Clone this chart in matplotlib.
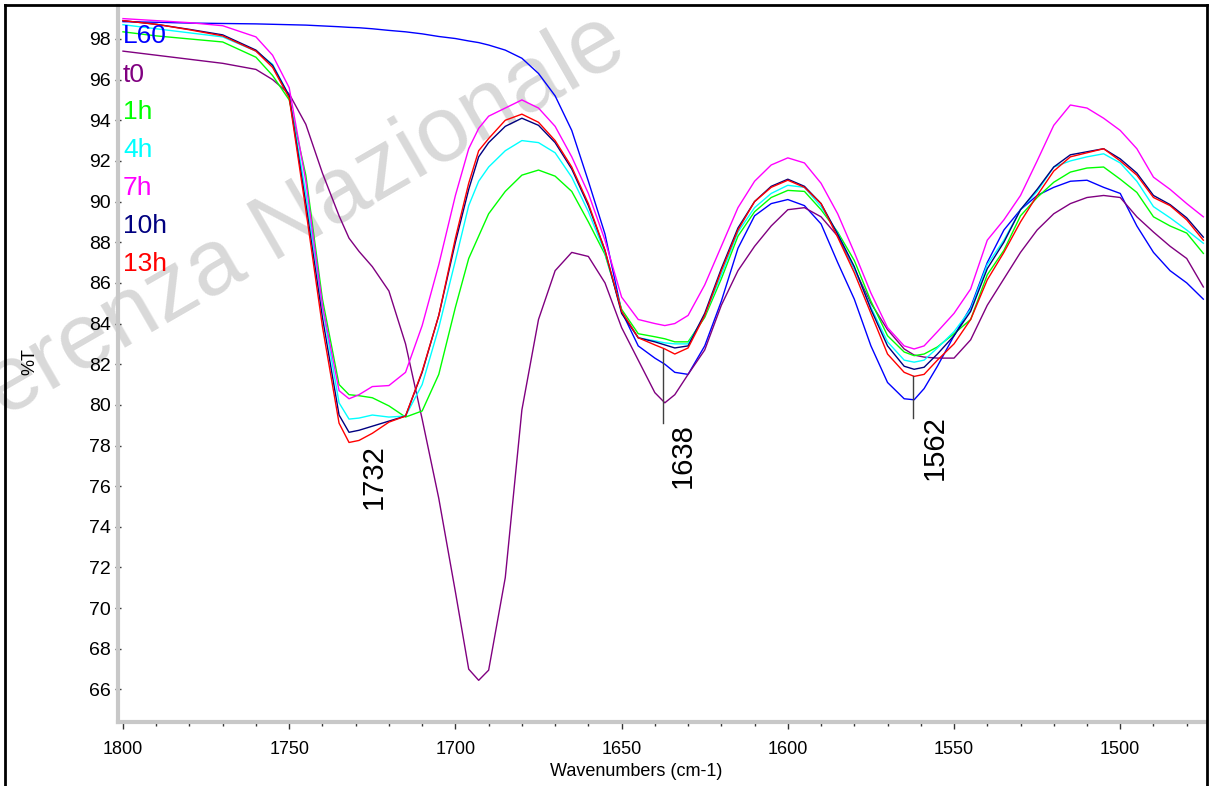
import matplotlib
matplotlib.use('Agg')
import matplotlib.pyplot as plt
from matplotlib.lines import Line2D
from matplotlib.ticker import MultipleLocator

plt.rcParams['font.family'] = ['Liberation Sans', 'DejaVu Sans']

# wavenumbers (cm-1) shared by all spectra
wn = [1800, 1790, 1780, 1770, 1760, 1755, 1750, 1745, 1740, 1735,
      1732, 1729, 1725, 1720, 1715, 1710, 1705, 1700, 1696, 1693,
      1690, 1685, 1680, 1675, 1670, 1665, 1660, 1655, 1650, 1645,
      1640, 1637, 1634, 1630, 1625, 1620, 1615, 1610, 1605, 1600,
      1595, 1590, 1585, 1580, 1575, 1570, 1565, 1562, 1559, 1555,
      1550, 1545, 1540, 1535, 1530, 1525, 1520, 1515, 1510, 1505,
      1500, 1495, 1490, 1485, 1480, 1475]

L60 = [98.85, 98.82, 98.78, 98.76, 98.74, 98.72, 98.70, 98.68, 98.64, 98.60,
       98.57, 98.55, 98.50, 98.42, 98.35, 98.25, 98.12, 98.02, 97.90, 97.82,
       97.70, 97.45, 97.05, 96.3, 95.2, 93.5, 91.0, 88.4, 84.6, 82.9,
       82.3, 82.0, 81.6, 81.5, 82.9, 85.1, 87.7, 89.3, 89.9, 90.1,
       89.8, 88.9, 87.0, 85.2, 82.9, 81.1, 80.3, 80.25, 80.8, 81.9,
       83.4, 84.8, 87.0, 88.6, 89.6, 90.3, 90.7, 91.0, 91.05, 90.7,
       90.4, 88.8, 87.5, 86.6, 86.0, 85.2]

t0 = [97.4, 97.2, 97.0, 96.8, 96.5, 96.0, 95.3, 93.8, 91.4, 89.3,
      88.2, 87.55, 86.8, 85.6, 83.0, 79.3, 75.4, 70.8, 67.0, 66.45,
      66.95, 71.5, 79.75, 84.2, 86.6, 87.5, 87.3, 86.0, 83.8, 82.2,
      80.6, 80.1, 80.5, 81.5, 82.7, 84.9, 86.6, 87.8, 88.8, 89.6,
      89.7, 89.25, 88.3, 86.7, 85.0, 83.7, 82.75, 82.45, 82.35, 82.3,
      82.3, 83.2, 84.9, 86.2, 87.5, 88.6, 89.4, 89.9, 90.2, 90.3,
      90.2, 89.25, 88.5, 87.8, 87.2, 85.8]

h1 = [98.35, 98.15, 98.0, 97.85, 97.1, 96.2, 95.0, 91.3, 85.2, 81.0,
      80.5, 80.45, 80.35, 79.95, 79.4, 79.7, 81.5, 84.8, 87.2, 88.3,
      89.4, 90.5, 91.3, 91.55, 91.25, 90.5, 89.0, 87.4, 84.7, 83.5,
      83.35, 83.25, 83.1, 83.1, 84.3, 86.2, 88.3, 89.5, 90.2, 90.55,
      90.5, 89.6, 88.5, 87.1, 85.1, 83.4, 82.6, 82.42, 82.5, 82.85,
      83.5, 84.2, 86.4, 87.6, 89.3, 90.2, 90.95, 91.45, 91.65, 91.7,
      91.1, 90.45, 89.25, 88.8, 88.45, 87.45]

h4 = [98.7, 98.5, 98.3, 98.1, 97.4, 96.75, 95.2, 90.4, 84.8, 80.1,
      79.3, 79.35, 79.5, 79.4, 79.45, 81.0, 83.8, 87.1, 89.8, 91.0,
      91.7, 92.5, 93.0, 92.9, 92.4, 91.2, 89.5, 87.5, 84.6, 83.3,
      83.15, 83.05, 83.0, 83.0, 84.4, 86.4, 88.5, 89.7, 90.4, 90.8,
      90.7, 89.75, 88.45, 86.7, 84.8, 83.1, 82.2, 82.1, 82.2, 82.8,
      83.6, 84.7, 86.9, 88.1, 89.6, 90.5, 91.7, 92.0, 92.2, 92.35,
      91.9, 91.0, 89.75, 89.2, 88.6, 87.95]

h7 = [99.0, 98.9, 98.8, 98.65, 98.1, 97.2, 95.6, 91.0, 84.9, 80.7,
      80.3, 80.5, 80.9, 80.95, 81.6, 83.9, 86.9, 90.3, 92.6, 93.6,
      94.2, 94.6, 95.0, 94.6, 93.7, 92.2, 90.4, 88.1, 85.3, 84.2,
      84.0, 83.9, 84.0, 84.4, 85.9, 87.8, 89.7, 91.0, 91.8, 92.15,
      91.9, 90.9, 89.4, 87.5, 85.5, 83.8, 82.9, 82.75, 82.9, 83.6,
      84.5, 85.7, 88.1, 89.1, 90.3, 92.0, 93.75, 94.75, 94.6, 94.1,
      93.5, 92.6, 91.2, 90.6, 89.9, 89.25]

h10 = [98.9, 98.72, 98.47, 98.2, 97.45, 96.7, 95.2, 89.9, 84.3, 79.5,
       78.65, 78.75, 78.95, 79.2, 79.45, 81.6, 84.4, 88.0, 90.6, 92.2,
       92.9, 93.7, 94.1, 93.75, 92.9, 91.6, 89.8, 87.6, 84.5, 83.3,
       83.1, 82.95, 82.8, 82.9, 84.5, 86.7, 88.7, 90.0, 90.75, 91.1,
       90.75, 89.9, 88.4, 86.8, 84.7, 82.9, 81.9, 81.75, 81.85, 82.5,
       83.4, 84.6, 86.7, 88.0, 89.6, 90.6, 91.7, 92.3, 92.45, 92.6,
       92.1, 91.4, 90.3, 89.85, 89.2, 88.25]

h13 = [98.9, 98.72, 98.45, 98.15, 97.4, 96.6, 95.1, 89.6, 83.85, 79.1,
       78.15, 78.25, 78.6, 79.15, 79.45, 81.65, 84.4, 88.2, 90.9, 92.5,
       93.1, 94.0, 94.3, 93.9, 93.0, 91.7, 89.9, 87.6, 84.6, 83.3,
       82.95, 82.75, 82.5, 82.8, 84.4, 86.6, 88.6, 90.0, 90.7, 91.05,
       90.7, 89.9, 88.25, 86.5, 84.5, 82.5, 81.6, 81.4, 81.5, 82.2,
       83.0, 84.2, 86.15, 87.5, 89.0, 90.3, 91.5, 92.2, 92.4, 92.6,
       92.0, 91.3, 90.2, 89.8, 89.1, 88.1]

labels = ['L60', 't0', '1h', '4h', '7h', '10h', '13h']
colors = ['#0000ff', '#800080', '#00ff00', '#00ffff', '#ff00ff', '#000080', '#ff0000']
series = [L60, t0, h1, h4, h7, h10, h13]

# peak marks: label, text x, text bottom, line top, line bottom
peaks = [('1732', 1724.6, 74.9, None, None),
         ('1638', 1631.7, 75.9, 82.75, 79.1),
         ('1562', 1555.9, 76.3, 81.4, 79.35)]
peak_pos = [1732, 1637.5, 1562.3]

W, H = 1216, 786
fig = plt.figure(figsize=(W / 100, H / 100), dpi=100)
ax = fig.add_axes([118 / W, 1 - 722 / H, (1205 - 118) / W, (722 - 6) / H])
ax.patch.set_alpha(0)

for y, c in zip(series, colors):
    ax.plot(wn, y, color=c, lw=1.0, zorder=2)

ax.set_xlim(1801.5, 1474.5)
ax.set_ylim(64.4, 99.62)

ax.xaxis.set_major_locator(MultipleLocator(50))
ax.xaxis.set_minor_locator(MultipleLocator(10))
ax.yaxis.set_major_locator(MultipleLocator(2))
ax.yaxis.set_minor_locator(MultipleLocator(0.5))
ax.set_yticks(range(66, 100, 2))

ax.tick_params(axis='x', which='major', direction='out', length=5, width=1,
               color='#333333', labelsize=13, pad=9)
ax.tick_params(axis='x', which='minor', direction='out', length=3, width=1, color='#333333')
ax.tick_params(axis='y', which='major', direction='inout', length=4, width=1,
               color='#333333', labelsize=14, pad=3)
ax.tick_params(axis='y', which='minor', direction='inout', length=2, width=1, color='#333333')

for s in ['top', 'right']:
    ax.spines[s].set_visible(False)
for s in ['left', 'bottom']:
    ax.spines[s].set_color('#c8c8c8')
    ax.spines[s].set_linewidth(3)

# outer frame
for xs, ys in [([5, 5], [5, H]), ([5, 1207], [5, 5]), ([1207, 1207], [5, H])]:
    fig.add_artist(Line2D([x / W for x in xs], [1 - y / H for y in ys],
                          color='black', lw=2, transform=fig.transFigure))

# watermark (runs off the left edge, as in the scan)
ax.text(630 / W, 1 - 56 / H, 'Conferenza Nazionale', transform=fig.transFigure,
        rotation=30, rotation_mode='anchor', ha='right', va='baseline',
        fontsize=67, color='#d9d9d9', zorder=0.5, clip_on=False)

# series labels
label_base = [43.3, 81.7, 119.3, 156.7, 195, 233.3, 270.7]
for lab, c, py in zip(labels, colors, label_base):
    fig.text(123 / W, 1 - py / H, lab, color=c, fontsize=19, ha='left', va='baseline')

# peak annotations
for (lab, tx, tyb, ytop, ybot), xp in zip(peaks, peak_pos):
    if ytop is not None:
        ax.plot([xp, xp], [ytop, ybot], color='#404040', lw=1, zorder=3)
    ax.text(tx, tyb, lab, rotation=90, ha='center', va='bottom', fontsize=21)

fig.text(636 / W, 1 - 771 / H, 'Wavenumbers (cm-1)', ha='center', va='center', fontsize=13)
fig.text(30 / W, 1 - 362 / H, '%T', ha='center', va='center', rotation=90, fontsize=13)

fig.savefig('out.png', dpi=100)
